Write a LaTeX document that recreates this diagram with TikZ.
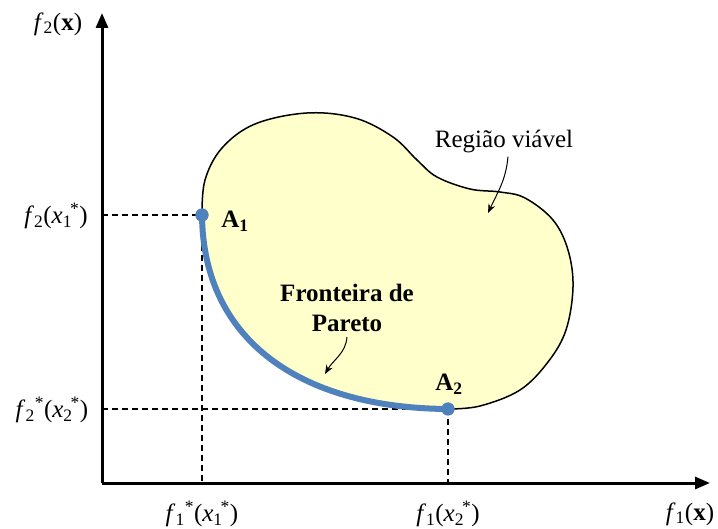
\documentclass[tikz,border=0pt]{standalone}
\usepackage{fontspec}
\setmainfont{Liberation Serif}
\usetikzlibrary{arrows.meta}
\definecolor{pblue}{RGB}{79,129,189}
\definecolor{pfill}{RGB}{255,255,204}
\newcommand\ssup[2]{\textsubscript{#1}\textsuperscript{#2}}
\newcommand\xsub[2]{\textit{x}\textsubscript{#1}\kern-0.08em\textsuperscript{#2}}
\begin{document}
\begin{tikzpicture}[x=1pt,y=-1pt,
  lbl/.style={font=\fontsize{25}{30}\selectfont, inner sep=0pt},
  axisline/.style={line width=3pt, -{Triangle[length=15pt,width=12pt]}},
  guide/.style={line width=1.3pt, dash pattern=on 6pt off 4pt},
  dotpt/.style={circle, fill=pblue, minimum size=13pt, inner sep=0pt},
  note/.style={line width=1pt, -{Stealth[length=9pt,width=7pt]}}]
\useasboundingbox (0,0) rectangle (718,529);
% axes
\coordinate (O) at (102,483);
\coordinate (ytop) at (102,13);
\coordinate (xend) at (710,483);
\coordinate (ya1) at (102,215);
\coordinate (ya2) at (102,409);
\coordinate (xa1) at (202,483);
\coordinate (xa2) at (448,483);
\coordinate (pA1) at (202,215);
\coordinate (pA2) at (448,409);
% guide lines
\draw[guide] (ya1) -- (pA1);
\draw[guide] (pA1) -- (xa1);
\draw[guide] (ya2) -- (pA2);
\draw[guide] (pA2) -- (xa2);
% feasible region
\fill[pfill] plot[smooth, tension=0.6] coordinates {(202,215) (205,180) (222,148) (255,124) (307,113) (355,118) (393,137) (417,160) (437,177) (470,189) (500,192) (525,198) (553,220) (568,250) (573,287) (566,330) (548,362) (520,390) (480,406) (448,409)}
  .. controls (300,408) and (203,335) .. (202,215) -- cycle;
\draw[line width=1.5pt] plot[smooth, tension=0.6] coordinates {(202,215) (205,180) (222,148) (255,124) (307,113) (355,118) (393,137) (417,160) (437,177) (470,189) (500,192) (525,198) (553,220) (568,250) (573,287) (566,330) (548,362) (520,390) (480,406) (448,409)};
% axes on top
\draw[axisline] (O) -- (ytop);
\draw[axisline] (O) -- (xend);
% nodes
\node[dotpt] (A1) at (pA1) {};
\node[dotpt] (A2) at (pA2) {};
\draw[pblue, line width=6pt] (A1.center) .. controls (203,340) and (300,408) .. (A2.center);
\node[dotpt] at (pA1) {};
\node[dotpt] at (pA2) {};
% labels
\node[lbl] (ylab) at (58,24) {\textit{f}\textsubscript{2}(\textbf{x})};
\node[lbl] (xlab) at (690,514) {\textit{f}\textsubscript{1}(\textbf{x})};
\node[lbl] (l21) at (56,216) {\textit{f}\textsubscript{2}(\xsub{1}{*})};
\node[lbl] (l22) at (52,410) {\textit{f}\ssup{2}{*}(\xsub{2}{*})};
\node[lbl] (l11) at (202,514) {\textit{f}\ssup{1}{*}(\xsub{1}{*})};
\node[lbl] (l12) at (448,514) {\textit{f}\textsubscript{1}(\xsub{2}{*})};
\node[lbl, font=\fontsize{25}{30}\selectfont\bfseries] (A1lab) at (235,221) {A\textsubscript{1}};
\node[lbl, font=\fontsize{25}{30}\selectfont\bfseries] (A2lab) at (449,384) {A\textsubscript{2}};
\node[lbl] (reg) at (504,142) {Região viável};
\node[lbl, font=\fontsize{25}{30}\selectfont\bfseries, align=center] (par) at (347,308) {Fronteira de\\Pareto};
\coordinate (regtip) at (488,213);
\coordinate (partip) at (325,374);
\draw[note] ([xshift=4pt,yshift=-3pt]reg.south) to[out=-95,in=65] (regtip);
\draw[note] ([yshift=-5pt]par.south) to[out=-95,in=60] (partip);
\end{tikzpicture}
\end{document}
